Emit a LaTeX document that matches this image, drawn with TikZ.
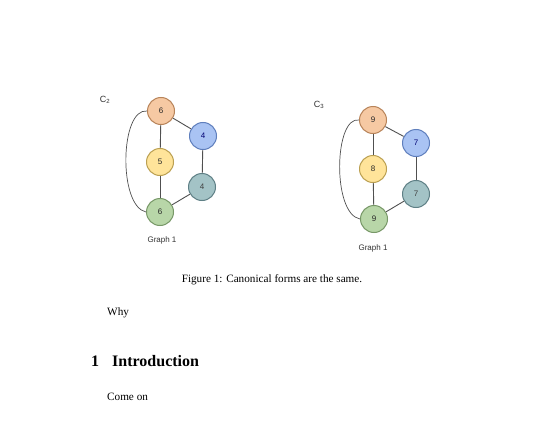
\documentclass[tikz,border=0pt]{standalone}
\usepackage{fontspec}
\setmainfont{Liberation Serif}
\setsansfont{Liberation Sans}
\definecolor{orF}{HTML}{F6C9A3}\definecolor{orD}{HTML}{B8845A}
\definecolor{blF}{HTML}{A9C3F3}\definecolor{blD}{HTML}{5F7FBD}
\definecolor{yeF}{HTML}{FFE49A}\definecolor{yeD}{HTML}{BBA052}
\definecolor{tlF}{HTML}{A3C3C6}\definecolor{tlD}{HTML}{5F8086}
\definecolor{gnF}{HTML}{B8D6A8}\definecolor{gnD}{HTML}{789868}
\definecolor{edgeC}{HTML}{505050}
\tikzset{
  vtx/.style={circle,minimum size=27pt,inner sep=0pt,line width=1pt,font=\sffamily\fontsize{8}{9}\selectfont,text=black!85},
  vor/.style={vtx,fill=orF,draw=orD},
  vbl/.style={vtx,fill=blF,draw=blD,text=blue!45!black},
  vye/.style={vtx,fill=yeF,draw=yeD},
  vtl/.style={vtx,fill=tlF,draw=tlD,text=black!75},
  vgn/.style={vtx,fill=gnF,draw=gnD},
  edg/.style={draw=edgeC,line width=0.9pt},
  glab/.style={font=\sffamily\fontsize{8}{9}\selectfont,text=black!80},
  clab/.style={font=\sffamily\fontsize{9}{10}\selectfont,text=black!80},
  body/.style={font=\fontsize{11.2}{13}\selectfont,anchor=west,inner sep=0pt}
}
\begin{document}
\begin{tikzpicture}[x=1pt,y=-1pt]
\useasboundingbox[fill=white] (0,0) rectangle (540,433);
% left graph
\node[vor] (a1) at (161,111) {6};
\node[vbl] (a2) at (203,136) {4};
\node[vye] (a3) at (160,162) {5};
\node[vtl] (a4) at (202,187) {4};
\node[vgn] (a5) at (160,212) {6};
\draw[edg] (a1) -- (a3);
\draw[edg] (a3) -- (a5);
\draw[edg] (a1) -- (a2);
\draw[edg] (a2) -- (a4);
\draw[edg] (a4) -- (a5);
\draw[edg,line width=0.7pt] (a1.west) .. controls (120,108) and (118,206) .. (a5.west);
\node[clab] (c2) at (105,100) {C\textsubscript{\fontsize{6}{7}\selectfont 2}};
\node[glab] (g1) at (162,240) {Graph 1};
% right graph
\node[vor] (b1) at (373,120) {9};
\node[vbl] (b2) at (416,143) {7};
\node[vye] (b3) at (373,169) {8};
\node[vtl] (b4) at (416,194) {7};
\node[vgn] (b5) at (374,219) {9};
\draw[edg] (b1) -- (b3);
\draw[edg] (b3) -- (b5);
\draw[edg] (b1) -- (b2);
\draw[edg] (b2) -- (b4);
\draw[edg] (b4) -- (b5);
\draw[edg,line width=0.7pt] (b1.west) .. controls (334,116) and (332,214) .. (b5.west);
\node[clab] (c3) at (319,105) {C\textsubscript{\fontsize{6}{7}\selectfont 3}};
\node[glab] (g2) at (373,248) {Graph 1};
% text
\node[font=\fontsize{11.2}{13}\selectfont,inner sep=0pt] (cap) at (272,280) {Figure 1: Canonical forms are the same.};
\node[body] (why) at (107,313) {Why};
\node[font=\bfseries\fontsize{16}{19}\selectfont,anchor=west,inner sep=0pt] (sec) at (91,361) {1\hspace{13pt}Introduction};
\node[body] (come) at (107,397) {Come on};
\end{tikzpicture}
\end{document}
